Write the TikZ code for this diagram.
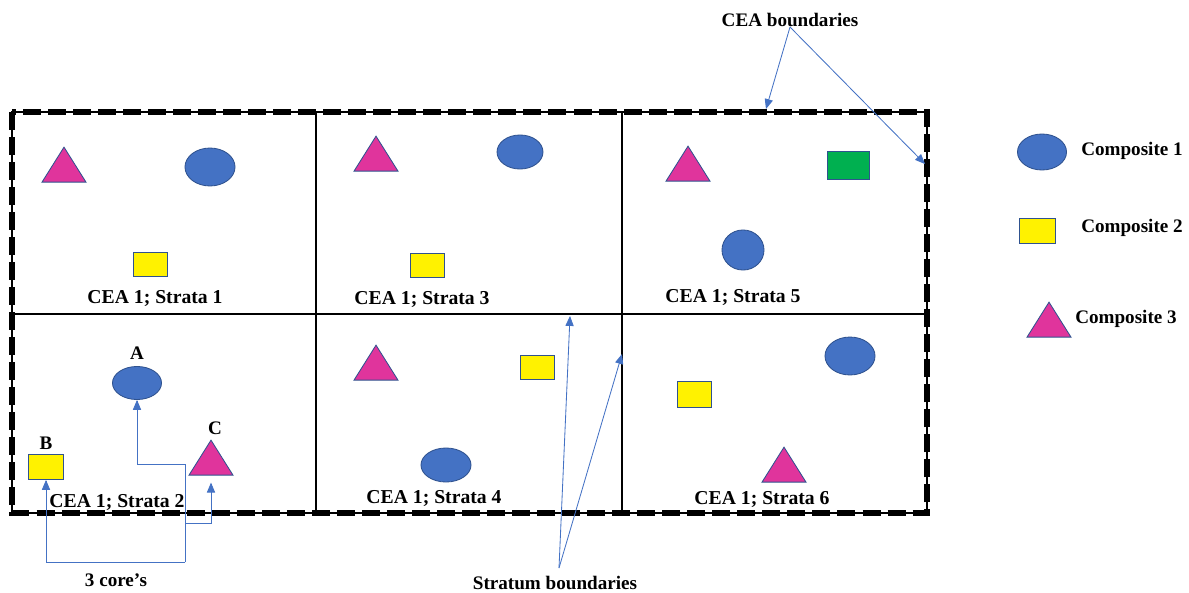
\documentclass[tikz,border=0pt]{standalone}
\usepackage{fontspec}
\setmainfont{Liberation Serif}
\usetikzlibrary{arrows}
\usetikzlibrary{shapes.geometric}
\definecolor{compblue}{RGB}{68,114,196}
\definecolor{compedge}{RGB}{47,82,143}
\definecolor{comppink}{RGB}{224,52,156}
\definecolor{compgreen}{RGB}{0,176,80}
\begin{document}
\begin{tikzpicture}[x=0.025cm,y=-0.025cm,>=triangle 45,
    lbl/.style={font=\fontsize{13.6}{16}\bfseries\selectfont,inner sep=0pt},
    cell/.style={font=\fontsize{14}{17}\bfseries\selectfont,inner sep=0pt},
    oval/.style={ellipse,draw=compedge,line width=0.6pt,fill=compblue,inner sep=0pt,minimum width=35.6pt,minimum height=27pt},
    box/.style={rectangle,draw=compedge,line width=0.6pt,fill=yellow,inner sep=0pt,minimum width=24.2pt,minimum height=17.1pt},
    tri/.style={isosceles triangle,isosceles triangle stretches,shape border rotate=90,draw=compedge,line width=0.6pt,fill=comppink,inner sep=0pt,minimum width=31.3pt,minimum height=24.9pt},
    pointer/.style={->,draw=compblue,line width=0.6pt}]
        \useasboundingbox (0,0) rectangle (1189,592);
        \draw[line width=0.8pt] (316,112) -- (316,513);
        \draw[line width=0.8pt] (622,112) -- (622,513);
        \draw[line width=0.8pt] (12,314) -- (927,314);
        \draw[line width=0.8pt] (12,112) rectangle (927,513);
        \draw[line width=3.6pt,dash pattern=on 12.8pt off 5pt] (12,112) rectangle (927,513);
        \node[tri] (t1) at (64,170) {};
        \node[oval] (e1) at (210,167) {};
        \node[box] (r1) at (150,264) {};
        \node[cell] (s1) at (155,299) {CEA 1; Strata 1};
        \node[tri] (t3) at (376,159) {};
        \node[oval,minimum width=32.7pt,minimum height=24.2pt] (e3) at (520,152) {};
        \node[box] (r3) at (427,265) {};
        \node[cell] (s3) at (422,300) {CEA 1; Strata 3};
        \node[tri] (t5) at (688,169) {};
        \node[box,fill=compgreen,minimum width=29.9pt,minimum height=19.9pt] (g5) at (848,165) {};
        \node[oval,minimum width=29.9pt,minimum height=28.5pt] (e5) at (743,250) {};
        \node[cell] (s5) at (733,298) {CEA 1; Strata 5};
        \node[oval,minimum width=34.9pt,minimum height=23.5pt] (A) at (137,383) {};
        \node[lbl] (labA) at (137,353) {A};
        \node[box,minimum width=24.9pt,minimum height=17.8pt] (B) at (46,467) {};
        \node[lbl] (labB) at (46,443) {B};
        \node[tri] (C) at (211,463) {};
        \node[lbl] (labC) at (215,428) {C};
        \node[cell] (s2) at (117,502) {CEA 1; Strata 2};
        \node[tri] (t4) at (376,368) {};
        \node[box] (r4) at (537,367) {};
        \node[oval,minimum height=24.2pt] (e4) at (446,465) {};
        \node[cell] (s4) at (434,498) {CEA 1; Strata 4};
        \node[oval] (e6) at (850,356) {};
        \node[box,minimum height=18.5pt] (r6) at (694,394) {};
        \node[tri] (t6) at (784,470) {};
        \node[cell] (s6) at (762,499) {CEA 1; Strata 6};
        \node[oval,minimum width=34.9pt,minimum height=25.6pt] (k1) at (1042,152) {};
        \node[lbl,anchor=west] (c1) at (1081,151) {Composite 1};
        \node[box,minimum width=25.6pt,minimum height=17.8pt] (k2) at (1037,231) {};
        \node[lbl,anchor=west] (c2) at (1081,228) {Composite 2};
        \node[tri] (k3) at (1049,325) {};
        \node[lbl,anchor=west] (c3) at (1075,319) {Composite 3};
        \node[lbl] (cores) at (116,580) {3 core’s};
        \coordinate (core) at (185,562);
        \coordinate (j1) at (185,464);
        \coordinate (j2) at (185,523);
        \draw[draw=compblue,line width=0.6pt] (core) -- (j1);
        \draw[pointer] (j1) -| (A.south);
        \draw[pointer] (core) -| (B.south);
        \draw[pointer,shorten >=5pt] (j2) -| (C.south);
        \node[lbl] (cea) at (790,20) {CEA boundaries};
        \coordinate (ceaTop) at (766,109);
        \coordinate (ceaRight) at (925,164);
        \draw[pointer] (cea.south) -- (ceaTop);
        \draw[pointer] (cea.south) -- (ceaRight);
        \node[lbl] (strat) at (555,583) {Stratum boundaries};
        \coordinate (stratH) at (570,316);
        \coordinate (stratV) at (622,354);
        \draw[pointer] (559,568) -- (stratH);
        \draw[pointer] (559,568) -- (stratV);
\end{tikzpicture}
\end{document}
